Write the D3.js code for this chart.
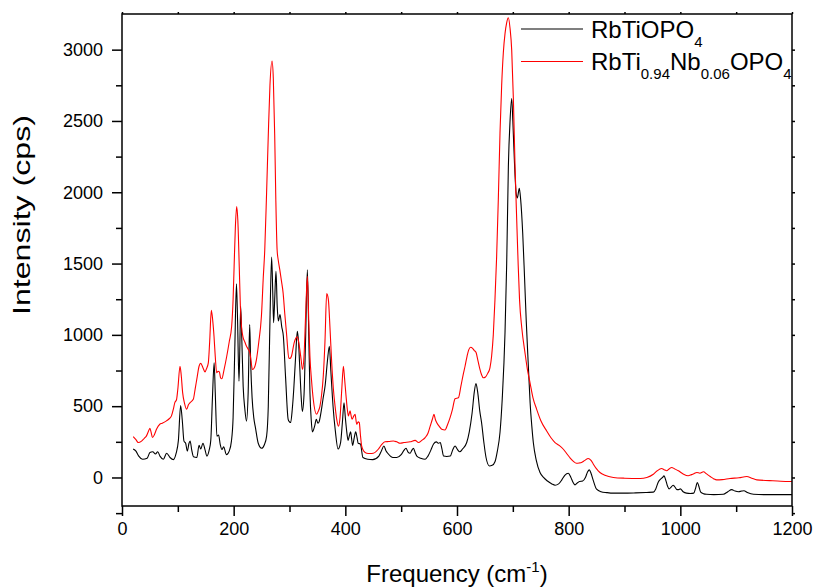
<!DOCTYPE html>
<html>
  <head>
    <meta charset="UTF-8" />
    <title>Raman spectra</title>
    <script src="https://d3js.org/d3.v7.min.js"></script>
    <style>
      body {
        margin: 0;
        background: #fff;
      }
      text {
        font-family: 'Liberation Sans', Arial, sans-serif;
        fill: #000;
      }
    </style>
  </head>

  <body>
    <div id="main"></div>
    <script type="text/javascript">
      // [frequency (cm-1), intensity (cps)]
      const rbTiOPO4 = [
        [20, 200], [25, 185], [30, 150], [37, 128], [45, 135], [50, 175], [55, 180], [60, 165],
        [64, 180], [68, 150], [74, 128], [80, 170], [86, 140], [92, 125], [97, 170], [101, 260],
        [105, 505], [108, 400], [111, 255], [114, 240], [117, 185], [120, 240], [122, 255],
        [125, 190], [128, 145], [134, 140], [138, 225], [141, 200], [145, 240], [149, 190],
        [152, 150], [156, 190], [159, 260], [162, 560], [165, 804], [167, 600], [170, 290],
        [173, 298], [176, 230], [179, 196], [182, 215], [187, 160], [192, 185], [196, 255],
        [199, 420], [202, 900], [205, 1358], [207, 1100], [209.5, 675], [211, 900], [212.5, 1200],
        [214, 1050], [217, 640], [220, 480], [223, 395], [226, 600], [228.7, 1072], [230.5, 800],
        [233, 560], [236, 420], [239, 350], [244, 240], [250, 205], [255, 230], [259, 290],
        [262, 500], [265, 1100], [268, 1545], [270, 1300], [271.5, 1085], [273.5, 1250],
        [275.8, 1445], [278, 1200], [280, 1097], [283, 1143], [286, 1060], [289, 990], [293, 700],
        [297.6, 408], [300, 390], [302, 385], [305, 480], [307.6, 617], [311, 850], [314, 1025],
        [316, 960], [318, 804], [321, 560], [323, 463], [326, 580], [329, 1000], [332, 1457],
        [334.5, 1000], [336.6, 600], [339, 400], [341, 320], [345, 360], [348, 408], [351, 380],
        [353, 390], [357, 470], [360, 550], [364, 650], [368, 820], [371.4, 920], [374, 750],
        [378, 500], [382, 330], [387, 200], [391.5, 245], [395, 400], [397.6, 524], [400, 420],
        [402, 340], [405, 260], [407, 290], [409.5, 320], [411, 280], [413, 225], [416, 280],
        [418.5, 320], [421, 280], [423, 240], [427, 235], [431.5, 140], [440, 128], [449, 125],
        [460, 150], [465, 190], [469, 221], [473, 185], [477, 165], [485, 140], [492, 140],
        [500, 160], [505, 190], [508.7, 205], [512, 180], [516, 170], [519, 190], [522, 205],
        [525, 175], [528, 150], [535, 135], [543, 128], [548, 150], [553, 190], [558, 235],
        [563, 250], [567, 240], [570, 245], [573, 200], [576, 150], [581.5, 147], [588, 150],
        [592, 190], [596.5, 221], [601, 195], [605, 180], [610, 200], [617.4, 245], [622, 320],
        [627, 450], [631, 600], [634, 659], [637, 600], [641, 460], [644, 385], [648, 250],
        [652, 140], [658, 81], [663, 85], [668, 110], [672, 180], [677, 315], [681, 550],
        [686, 1016], [689, 1500], [692, 2180], [695, 2500], [698, 2657], [700, 2500], [703, 2200],
        [706, 1990], [708, 1960], [711.6, 2028], [714, 1950], [717.7, 1713], [721, 1400],
        [724, 1100], [727.8, 780], [731, 520], [734, 360], [736.7, 245], [742, 120], [748.7, 35],
        [755, 0], [762, -25], [770, -45], [775.6, -54], [782, -45], [788, -15], [793, 15],
        [799.4, 30], [804, 0], [808, -35], [811.4, -52], [815, -40], [819.5, -28], [825, -25],
        [830, 0], [834, 40], [837, 53], [840, 30], [844, -20], [850, -82], [858, -100],
        [868, -106], [880, -110], [898, -110], [920, -108], [940, -105], [951.7, -103], [956, -80],
        [960.6, -31], [965, -10], [968, 0], [970.8, 11], [974, -20], [977, -60], [980, -80],
        [983, -70], [987, -54], [990, -65], [994, -85], [997, -85], [1000, -80], [1005, -100],
        [1011, -110], [1018, -112], [1024, -110], [1027, -80], [1030.5, -35], [1033, -60],
        [1036.5, -103], [1042, -115], [1047, -118], [1060, -120], [1077, -118], [1085, -100],
        [1092, -85], [1098, -95], [1104, -100], [1110, -95], [1114, -93], [1120, -105],
        [1131, -118], [1150, -120], [1175, -120], [1200, -120]
      ];

      const rbTiNbOPO4 = [
        [20, 287], [25, 265], [29, 245], [35, 255], [40, 275], [43.6, 290], [47, 320], [50, 345],
        [52, 320], [54.6, 280], [58, 300], [62, 340], [67.7, 373], [72, 380], [79.6, 397],
        [84, 410], [88.6, 432], [92, 480], [94.6, 525], [97.6, 545], [100, 620], [103.9, 780],
        [106, 720], [108.6, 595], [112, 520], [115.8, 478], [119, 510], [122, 525], [127.7, 548],
        [131, 620], [134.9, 711], [138, 780], [141, 800], [145, 770], [148.7, 740], [151, 760],
        [154.6, 804], [157, 950], [160, 1172], [162.5, 1100], [164.8, 990], [167, 850],
        [169.6, 734], [172, 745], [174.4, 740], [176.5, 700], [178.7, 692], [183, 760],
        [187.6, 850], [192, 950], [196.4, 1060], [199, 1250], [200.8, 1480], [203, 1750],
        [205.4, 1900], [207.5, 1800], [210, 1480], [212, 1200], [214, 1060], [217, 980],
        [220, 950], [223, 920], [226, 900], [229, 875], [231, 820], [233.6, 757], [237, 770],
        [240.8, 827], [245, 950], [249.7, 1130], [253, 1400], [255.7, 1597], [259, 2000],
        [262, 2400], [265, 2750], [268.7, 2920], [271, 2800], [273.5, 2400], [275.5, 1950],
        [277.8, 1597], [280, 1520], [282.6, 1457], [285.5, 1380], [288.6, 1293], [291.5, 1150],
        [294.6, 1013], [298.8, 838], [301, 835], [303.5, 850], [308.3, 944], [311, 975],
        [313.7, 986], [316, 960], [318.5, 897], [321, 820], [323.3, 757], [326, 850],
        [329, 1150], [332, 1410], [334.5, 1100], [336.6, 850], [339.5, 680], [342.6, 547],
        [348.6, 443], [351, 460], [354.6, 500], [357.5, 580], [360.5, 711], [363.5, 950],
        [366.6, 1289], [369.6, 1247], [372.5, 1050], [375.6, 804], [378.6, 620], [381.6, 500],
        [384.5, 410], [387.6, 360], [390.5, 420], [393.6, 617], [396.5, 780], [398.5, 700],
        [401.3, 570], [403.5, 480], [405.5, 432], [408.5, 467], [410, 440], [412, 408],
        [415, 430], [417.4, 443], [420.4, 373], [423, 390], [425, 385], [427, 300], [429.2, 221],
        [433, 185], [438.2, 170], [444, 168], [450, 170], [459, 198], [465, 230], [471, 250],
        [478, 252], [486, 256], [492, 250], [498, 240], [505, 245], [516, 250], [525, 260],
        [531, 245], [537, 260], [543, 280], [548, 310], [552, 360], [556, 410], [558.8, 443],
        [561, 410], [563.6, 385], [568, 360], [572.6, 338], [578.5, 333], [583, 370],
        [587.6, 420], [592, 480], [596.5, 552], [602.5, 559], [607, 640], [611, 720],
        [614.4, 780], [618, 850], [621, 895], [624.5, 913], [628, 905], [631, 890], [634, 878],
        [637.5, 820], [641, 760], [644, 720], [647, 699], [651, 705], [655, 730], [659, 769],
        [662, 850], [665, 1000], [668, 1247], [671, 1550], [674, 1950], [677, 2413], [680, 2750],
        [683, 2980], [686, 3112], [689, 3190], [692, 3224], [695, 3150], [698, 2995], [701, 2650],
        [704, 2179], [707, 1800], [709.5, 1500], [712, 1247], [716, 1050], [721.8, 874],
        [726, 760], [730.8, 664], [736, 560], [742.7, 478], [750, 400], [760.6, 326], [768, 280],
        [775.6, 245], [783, 225], [790.5, 198], [796, 170], [802, 140], [808, 115], [814, 100],
        [819, 102], [823, 105], [829, 120], [835, 133], [840, 120], [844, 95], [850, 60],
        [856, 35], [865, 15], [880, 0], [900, -5], [928, -7], [940, 0], [951.7, 23], [958, 45],
        [966.6, 63], [971, 55], [975.6, 47], [980, 60], [984.5, 70], [990, 60], [996.5, 47],
        [1005, 25], [1014, 12], [1020, 20], [1025, 28], [1029.5, 35], [1035, 30], [1041.4, 40],
        [1047, 25], [1053.4, 7], [1060, -10], [1065, -17], [1075, -15], [1089, -7], [1105, -2],
        [1119, 7], [1128, -5], [1137, -17], [1160, -22], [1180, -26], [1200, -28]
      ];

      const xTicks = [0, 200, 400, 600, 800, 1000, 1200];
      const xMinorTicks = [100, 300, 500, 700, 900, 1100];
      const yTicks = [0, 500, 1000, 1500, 2000, 2500, 3000];
      const yMinorTicks = [-250, 250, 750, 1250, 1750, 2250, 2750];

      const width = 815;
      const height = 587;
      const margin = { top: 14, right: 23, bottom: 81, left: 122 };

      const svg = d3
        .select('div#main')
        .append('svg')
        .attr('width', width)
        .attr('height', height);

      const x = d3
        .scaleLinear()
        .domain([0, 1200])
        .range([margin.left, width - margin.right]);
      const y = d3
        .scaleLinear()
        .domain([-200, 3250])
        .range([height - margin.bottom, margin.top]);

      const line = d3
        .line()
        .x((d) => x(d[0]))
        .y((d) => y(d[1]))
        .curve(d3.curveMonotoneX);

      svg
        .append('path')
        .datum(rbTiOPO4)
        .attr('fill', 'none')
        .attr('stroke', '#000')
        .attr('stroke-width', 1.1)
        .attr('d', line);

      svg
        .append('path')
        .datum(rbTiNbOPO4)
        .attr('fill', 'none')
        .attr('stroke', '#ff0000')
        .attr('stroke-width', 1.1)
        .attr('d', line);

      // axes (Origin-style frame)
      const fmt = d3.format('d');
      const bottom = svg
        .append('g')
        .attr('transform', `translate(0,${y.range()[0]})`);
      bottom
        .call(d3.axisBottom(x).tickValues(xTicks).tickFormat(fmt).tickSize(10).tickPadding(6))
        .call((g) => g.select('.domain').remove());
      bottom
        .append('g')
        .call(d3.axisBottom(x).tickValues(xMinorTicks).tickSize(6).tickFormat(''))
        .call((g) => g.select('.domain').remove());

      const left = svg.append('g').attr('transform', `translate(${x.range()[0]},0)`);
      left
        .call(d3.axisLeft(y).tickValues(yTicks).tickFormat(fmt).tickSize(10).tickPadding(9))
        .call((g) => g.select('.domain').remove());
      left
        .append('g')
        .call(d3.axisLeft(y).tickValues(yMinorTicks).tickSize(6).tickFormat(''))
        .call((g) => g.select('.domain').remove());

      // tiny ticks on the top and right edges
      svg
        .append('g')
        .attr('transform', `translate(0,${y.range()[1]})`)
        .call(d3.axisTop(x).tickValues(xTicks.concat(xMinorTicks)).tickSize(2).tickFormat(''))
        .call((g) => g.select('.domain').remove());
      svg
        .append('g')
        .attr('transform', `translate(${x.range()[1]},0)`)
        .call(d3.axisRight(y).tickValues(yTicks.concat(yMinorTicks)).tickSize(3).tickFormat(''))
        .call((g) => g.select('.domain').remove());

      svg.selectAll('.tick line').attr('stroke', '#000').attr('stroke-width', 1.5);
      svg
        .selectAll('.tick text')
        .style('font-family', "'Liberation Sans', Arial, sans-serif")
        .style('font-size', '18px')
        .attr('fill', '#000');

      svg
        .append('rect')
        .attr('x', x.range()[0])
        .attr('y', y.range()[1])
        .attr('width', x.range()[1] - x.range()[0])
        .attr('height', y.range()[0] - y.range()[1])
        .attr('fill', 'none')
        .attr('stroke', '#000')
        .attr('stroke-width', 1.5);

      // axis titles
      const xTitle = svg
        .append('text')
        .attr('x', (x.range()[0] + x.range()[1]) / 2)
        .attr('y', 582)
        .attr('text-anchor', 'middle')
        .style('font-size', '24px');
      xTitle.append('tspan').text('Frequency (cm');
      xTitle.append('tspan').attr('dy', -10).style('font-size', '15px').text('-1');
      xTitle.append('tspan').attr('dy', 10).text(')');

      svg
        .append('text')
        .attr('transform', 'translate(30,215) rotate(-90)')
        .attr('text-anchor', 'middle')
        .attr('textLength', 200)
        .attr('lengthAdjust', 'spacingAndGlyphs')
        .style('font-size', '24px')
        .text('Intensity (cps)');

      // legend
      const legendItems = [
        { color: '#000', parts: [['RbTiOPO', 0], ['4', 1]] },
        {
          color: '#ff0000',
          parts: [['RbTi', 0], ['0.94', 1], ['Nb', 0], ['0.06', 1], ['OPO', 0], ['4', 1]]
        }
      ];
      legendItems.forEach((item, i) => {
        const ly = 29 + i * 32.5;
        svg
          .append('line')
          .attr('x1', 521)
          .attr('x2', 583)
          .attr('y1', ly)
          .attr('y2', ly)
          .attr('stroke', item.color)
          .attr('stroke-width', 1.1);
        const t = svg
          .append('text')
          .attr('x', 591)
          .attr('y', ly + 8.5)
          .style('font-size', '24px');
        let sub = 0;
        item.parts.forEach(([s, isSub]) => {
          const dy = (isSub ? 9 : 0) - sub;
          sub = isSub ? 9 : 0;
          t.append('tspan')
            .attr('dy', dy)
            .style('font-size', isSub ? '15px' : '24px')
            .text(s);
        });
      });
    </script>
  </body>
</html>
